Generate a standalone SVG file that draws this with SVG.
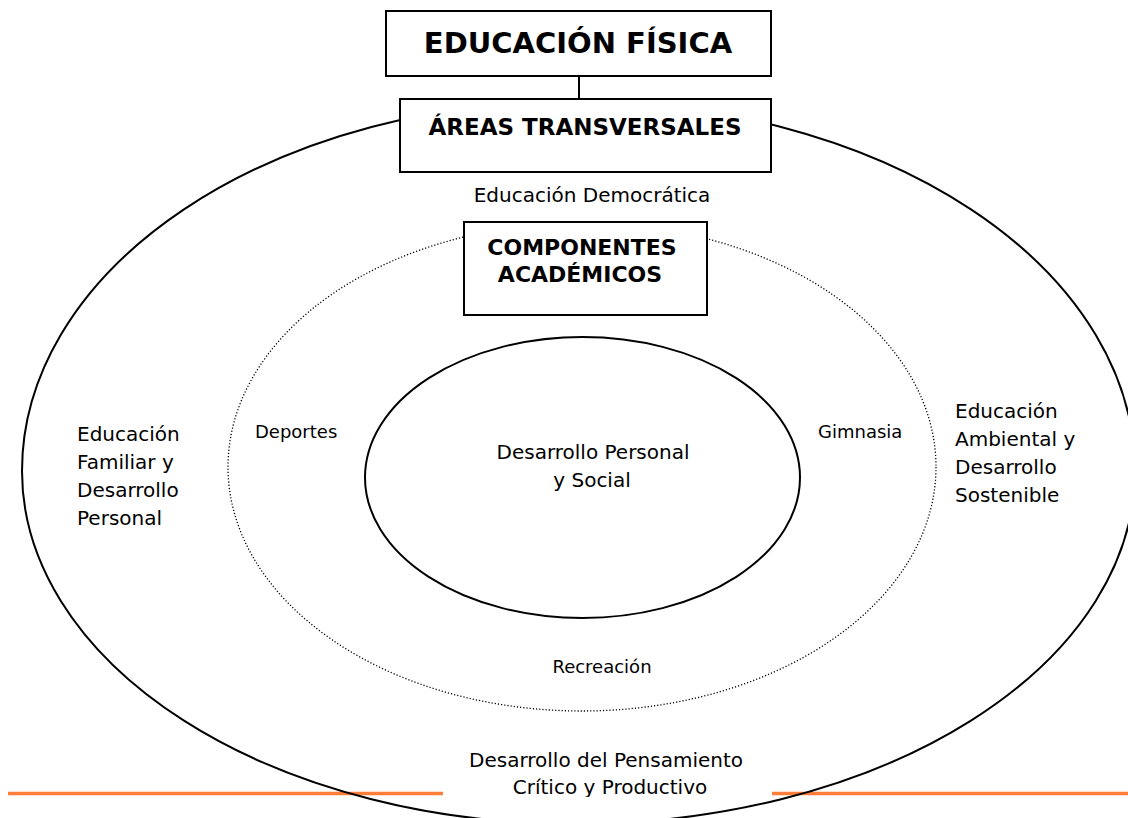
<svg xmlns="http://www.w3.org/2000/svg" width="1128" height="818" viewBox="0 0 1128 818">
<style>
.box{fill:#fff;stroke:#000;stroke-width:2}
.line{fill:none;stroke:#000;stroke-width:2}
.dot{fill:none;stroke:#000;stroke-width:1.3;stroke-dasharray:1.2 2}
.orange{stroke:#FF7E3A;stroke-width:3.6}
text{font-family:"DejaVu Sans","Liberation Sans",sans-serif;fill:#000}
.b{font-weight:bold}
.m{text-anchor:middle}
.t20{font-size:20px}
.t18{font-size:18px}
</style>
<defs>
<clipPath id="botclip"><rect x="440" y="730" width="340" height="67"/></clipPath>
</defs>
<g id="footer-line">
<line class="orange" x1="8" y1="793.5" x2="443" y2="793.5"/>
<line class="orange" x1="772" y1="793.5" x2="1128" y2="793.5"/>
</g>
<g id="outer-ring">
<path class="line" d="M 22 471 A 553 370 0 0 1 575 101 A 560 370 0 0 1 1135 471 A 560 353 0 0 1 575 824 A 553 353 0 0 1 22 471 Z"/>
</g>
<g id="middle-ring">
<ellipse class="dot" cx="582" cy="467" rx="354" ry="244"/>
</g>
<g id="inner-ring">
<ellipse class="line" cx="582.5" cy="477.5" rx="217.5" ry="140.5"/>
<text class="t20 m" x="593" y="459">Desarrollo Personal</text>
<text class="t20 m" x="592" y="487">y Social</text>
</g>
<g id="connectors">
<line class="line" x1="579" y1="76" x2="579" y2="99"/>
</g>
<g id="educacion-fisica">
<rect class="box" x="386" y="11" width="385" height="65"/>
<text class="b m" x="578" y="53" font-size="29">EDUCACIÓN FÍSICA</text>
</g>
<g id="areas-transversales">
<rect class="box" x="400" y="99" width="371" height="73"/>
<text class="b m" x="585" y="135" font-size="23">ÁREAS TRANSVERSALES</text>
</g>
<g id="componentes">
<rect class="box" x="464" y="222" width="243" height="93"/>
<text class="b m" x="582" y="255" font-size="22">COMPONENTES</text>
<text class="b m" x="580" y="282" font-size="22">ACADÉMICOS</text>
</g>
<g id="educacion-democratica">
<text class="t20 m" x="592" y="202">Educación Democrática</text>
</g>
<g id="educacion-familiar">
<text class="t20" x="77" y="441">Educación</text>
<text class="t20" x="77" y="469">Familiar y</text>
<text class="t20" x="77" y="497">Desarrollo</text>
<text class="t20" x="77" y="525">Personal</text>
</g>
<g id="educacion-ambiental">
<text class="t20" x="955" y="418">Educación</text>
<text class="t20" x="955" y="446">Ambiental y</text>
<text class="t20" x="955" y="474">Desarrollo</text>
<text class="t20" x="955" y="502">Sostenible</text>
</g>
<g id="deportes"><text class="t18" x="255" y="438">Deportes</text></g>
<g id="gimnasia"><text class="t18" x="818" y="438">Gimnasia</text></g>
<g id="recreacion"><text class="t18 m" x="602" y="673">Recreación</text></g>
<g id="pensamiento-critico" clip-path="url(#botclip)">
<text class="t20 m" x="606" y="767">Desarrollo del Pensamiento</text>
<text class="t20 m" x="610" y="794">Crítico y Productivo</text>
</g>
</svg>
